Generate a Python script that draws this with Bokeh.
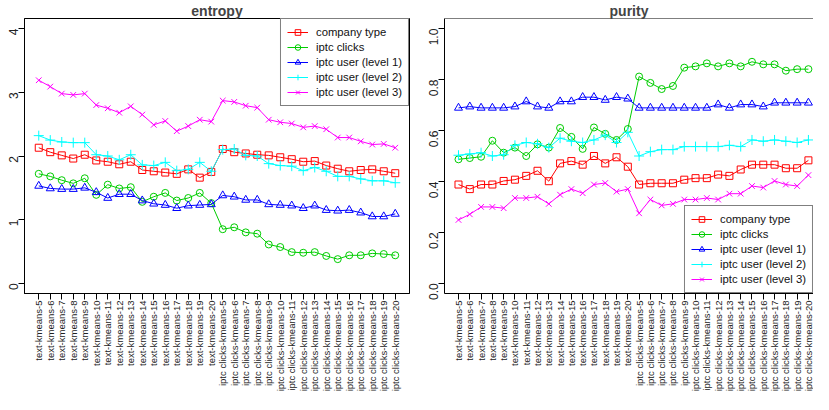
import math
from bokeh.plotting import figure
from bokeh.layouts import row
from bokeh.models import FixedTicker, PrintfTickFormatter, Range1d, Legend, LegendItem, Span
from bokeh.embed import file_html
from bokeh.resources import INLINE

categories = [f"text-kmeans-{k}" for k in range(5, 21)] + [f"iptc clicks-kmeans-{k}" for k in range(5, 21)]
series_names = ["company type", "iptc clicks", "iptc user (level 1)", "iptc user (level 2)", "iptc user (level 3)"]

entropy_company = [2.13, 2.06, 2.01, 1.96, 2.02, 1.93, 1.91, 1.87, 1.91, 1.78, 1.76, 1.74, 1.72, 1.79, 1.66, 1.75,
                   2.11, 2.06, 2.04, 2.02, 2.01, 1.98, 1.95, 1.91, 1.92, 1.85, 1.80, 1.76, 1.78, 1.79, 1.76, 1.73]
entropy_clicks = [1.72, 1.68, 1.62, 1.57, 1.65, 1.39, 1.55, 1.49, 1.51, 1.28, 1.36, 1.42, 1.30, 1.34, 1.42, 1.26,
                  0.85, 0.88, 0.80, 0.78, 0.61, 0.57, 0.49, 0.48, 0.49, 0.43, 0.38, 0.44, 0.44, 0.47, 0.46, 0.44]
entropy_level1 = [1.53, 1.49, 1.48, 1.48, 1.50, 1.43, 1.34, 1.40, 1.40, 1.30, 1.25, 1.23, 1.18, 1.22, 1.23, 1.24,
                  1.38, 1.36, 1.31, 1.31, 1.24, 1.23, 1.22, 1.18, 1.22, 1.15, 1.14, 1.15, 1.11, 1.05, 1.05, 1.09]
entropy_level2 = [2.32, 2.25, 2.22, 2.21, 2.21, 2.02, 2.00, 1.94, 2.02, 1.86, 1.85, 1.90, 1.77, 1.79, 1.90, 1.76,
                  2.10, 2.11, 2.01, 2.00, 1.88, 1.85, 1.84, 1.77, 1.82, 1.76, 1.68, 1.68, 1.64, 1.61, 1.61, 1.58]
entropy_level3 = [3.19, 3.09, 2.98, 2.96, 2.98, 2.80, 2.75, 2.68, 2.78, 2.65, 2.49, 2.55, 2.39, 2.47, 2.57, 2.54,
                  2.87, 2.85, 2.79, 2.76, 2.57, 2.53, 2.51, 2.45, 2.47, 2.42, 2.29, 2.29, 2.23, 2.18, 2.19, 2.13]

purity_company = [0.388, 0.370, 0.388, 0.388, 0.402, 0.407, 0.422, 0.442, 0.401, 0.471, 0.480, 0.466, 0.500, 0.471, 0.495, 0.458,
                  0.388, 0.393, 0.393, 0.393, 0.407, 0.413, 0.413, 0.427, 0.422, 0.447, 0.466, 0.466, 0.466, 0.452, 0.452, 0.483]
purity_clicks = [0.487, 0.492, 0.497, 0.560, 0.513, 0.533, 0.500, 0.546, 0.533, 0.610, 0.575, 0.528, 0.612, 0.587, 0.563, 0.606,
                 0.812, 0.787, 0.763, 0.775, 0.847, 0.852, 0.864, 0.852, 0.864, 0.852, 0.870, 0.860, 0.860, 0.835, 0.841, 0.841]
purity_level1 = [0.689, 0.694, 0.689, 0.689, 0.689, 0.694, 0.714, 0.694, 0.689, 0.714, 0.714, 0.731, 0.731, 0.720, 0.731, 0.725,
                 0.689, 0.689, 0.689, 0.689, 0.689, 0.689, 0.689, 0.702, 0.689, 0.702, 0.702, 0.694, 0.709, 0.709, 0.709, 0.709]
purity_level2 = [0.503, 0.508, 0.513, 0.500, 0.505, 0.542, 0.553, 0.548, 0.533, 0.570, 0.558, 0.553, 0.563, 0.582, 0.553, 0.593,
                 0.500, 0.517, 0.525, 0.525, 0.537, 0.537, 0.537, 0.537, 0.542, 0.537, 0.563, 0.558, 0.563, 0.558, 0.553, 0.563]
purity_level3 = [0.249, 0.271, 0.300, 0.300, 0.295, 0.335, 0.335, 0.340, 0.312, 0.348, 0.370, 0.354, 0.388, 0.394, 0.360, 0.370,
                 0.275, 0.329, 0.306, 0.312, 0.329, 0.329, 0.335, 0.329, 0.352, 0.352, 0.382, 0.376, 0.402, 0.388, 0.382, 0.425]

entropy_ticks = [0, 1, 2, 3, 4]
purity_ticks = [0.0, 0.2, 0.4, 0.6, 0.8, 1.0]

colors = ["#FF0000", "#00CD00", "#0000FF", "#00FFFF", "#FF00FF"]
markers = ["square", "circle", "triangle", "cross", "x"]
marker_sizes = [7, 7, 8, 10, 8]

FONT = "Liberation Sans"
xs = list(range(1, len(categories) + 1))


def style(p, yticks, fmt):
    p.xgrid.visible = False
    p.ygrid.visible = False
    p.background_fill_color = "white"
    p.border_fill_color = "white"
    p.title.text_font = FONT
    p.title.text_font_size = "14px"
    p.title.text_font_style = "bold"
    p.title.align = "center"
    p.title.standoff = 0
    p.title.offset = 0
    p.xaxis.ticker = FixedTicker(ticks=xs)
    p.xaxis.major_label_overrides = {i: c for i, c in zip(xs, categories)}
    p.xaxis.major_label_orientation = math.pi / 2
    p.xaxis.major_label_text_font = FONT
    p.xaxis.major_label_text_font_size = "9.5px"
    p.xaxis.major_label_text_color = "#222222"
    p.xaxis.major_label_standoff = 1
    p.yaxis.ticker = FixedTicker(ticks=yticks)
    p.yaxis.formatter = PrintfTickFormatter(format=fmt)
    p.yaxis.major_label_orientation = math.pi / 2
    p.yaxis.major_label_text_font = FONT
    p.yaxis.major_label_text_font_size = "12px"
    p.yaxis.major_label_text_color = "#222222"
    p.yaxis.major_label_standoff = 5
    for ax in (p.xaxis, p.yaxis):
        ax.major_tick_out = 6
        ax.major_tick_in = 0
        ax.minor_tick_out = 0
        ax.minor_tick_in = 0
        ax.axis_line_color = "black"
        ax.major_tick_line_color = "black"


def add_series(p, data):
    items = []
    for name, ys, c, m, s in zip(series_names, data, colors, markers, marker_sizes):
        r1 = p.line(xs, ys, line_color=c, line_width=1)
        r2 = p.scatter(xs, ys, marker=m, size=s, line_color=c, fill_color=None, line_width=1)
        items.append(LegendItem(label=name, renderers=[r1, r2]))
    return items


def make_legend(items, location):
    lg = Legend(items=items, location=location)
    lg.margin = 0
    lg.padding = 6
    lg.spacing = 1
    lg.glyph_width = 21
    lg.glyph_height = 14
    lg.label_height = 14
    lg.label_standoff = 8
    lg.label_text_font = FONT
    lg.label_text_font_size = "11.3px"
    lg.label_text_color = "#111111"
    lg.border_line_color = "black"
    lg.border_line_width = 1
    lg.background_fill_color = "white"
    lg.background_fill_alpha = 1.0
    return lg


p1 = figure(width=412, height=394, output_backend="svg", toolbar_location=None,
            x_range=Range1d(-0.24, 33.24), y_range=Range1d(-0.16, 4.16),
            min_border_left=24, min_border_right=3, min_border_top=0, min_border_bottom=0,
            title="entropy")
style(p1, entropy_ticks, "%d")
p1.outline_line_color = "black"
p1.outline_line_width = 1
items1 = add_series(p1, [entropy_company, entropy_clicks, entropy_level1, entropy_level2, entropy_level3])
p1.add_layout(make_legend(items1, "top_right"), "center")

p2 = figure(width=401, height=394, output_backend="svg", toolbar_location=None,
            x_range=Range1d(-0.24, 32.45), y_range=Range1d(-0.04, 1.04),
            min_border_left=32, min_border_right=0, min_border_top=0, min_border_bottom=0,
            title="purity")
style(p2, purity_ticks, "%.1f")
p2.outline_line_color = None
p2.add_layout(Span(location=1.04, dimension="width", line_color="black", line_width=1))
items2 = add_series(p2, [purity_company, purity_clicks, purity_level1, purity_level2, purity_level3])
p2.add_layout(make_legend(items2, "bottom_right"), "center")

layout = row(p1, p2)
open("out.html", "w").write(file_html(layout, INLINE))
